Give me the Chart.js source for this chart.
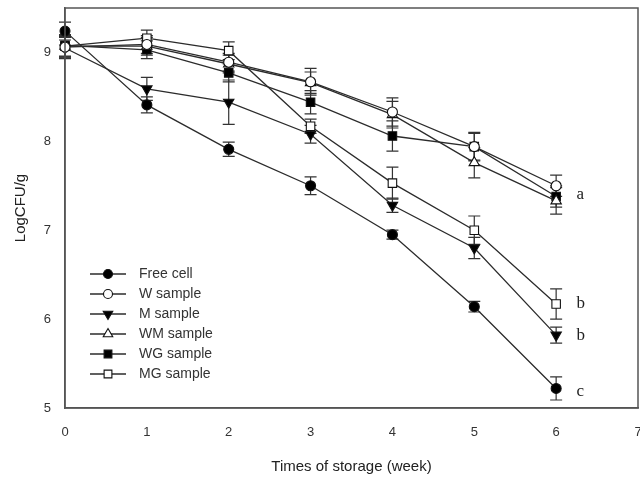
<!DOCTYPE html>
<html>
<head>
<meta charset="utf-8">
<script src="https://cdn.jsdelivr.net/npm/chart.js@4/dist/chart.umd.min.js"></script>
<style>
  html, body { margin: 0; padding: 0; background: #fff; overflow: hidden; }
  #chart { display: block; }
</style>
</head>
<body>
<canvas id="chart" width="642" height="477"></canvas>
<script>
// ── Data: LogCFU/g per storage week ──
var WEEKS = [0, 1, 2, 3, 4, 5, 6];
var X_TICKS = [0, 1, 2, 3, 4, 5, 6, 7];
var Y_TICKS = [5, 6, 7, 8, 9];

var FREE_CELL = [9.24, 8.41, 7.91, 7.50, 6.95, 6.14, 5.22];
var W_SAMPLE  = [9.06, 9.09, 8.89, 8.67, 8.33, 7.94, 7.50];
var M_SAMPLE  = [9.05, 8.59, 8.44, 8.08, 7.28, 6.80, 5.82];
var WM_SAMPLE = [9.07, 9.07, 8.87, 8.66, 8.30, 7.76, 7.33];
var WG_SAMPLE = [9.08, 9.03, 8.77, 8.44, 8.06, 7.94, 7.38];
var MG_SAMPLE = [9.07, 9.16, 9.02, 8.17, 7.53, 7.00, 6.17];

// error bars (± SD)
var FREE_SD = [0.10, 0.09, 0.08, 0.10, 0.05, 0.06, 0.13];
var W_SD    = [0.12, 0.10, 0.10, 0.15, 0.16, 0.15, 0.12];
var M_SD    = [0.12, 0.13, 0.25, 0.10, 0.08, 0.12, 0.09];
var WM_SD   = [0.12, 0.10, 0.10, 0.12, 0.15, 0.17, 0.15];
var WG_SD   = [0.12, 0.10, 0.10, 0.13, 0.17, 0.16, 0.12];
var MG_SD   = [0.12, 0.09, 0.10, 0.08, 0.18, 0.16, 0.17];

// significance letters at week 6
var LETTER_TEXT = ['a', 'b', 'b', 'c'];
var LETTER_Y = [7.40, 6.18, 5.82, 5.19];
var LETTER_X = 6.25;

var INK = '#2b2b2b';

function pts(ys) {
  return WEEKS.map(function (w, i) { return { x: w, y: ys[i] }; });
}

function serie(label, ys, sd, style, fill, radius, rot) {
  return {
    label: label, data: pts(ys), sd: sd,
    borderColor: INK, borderWidth: 1.3, tension: 0,
    pointStyle: style, pointRadius: radius, pointRotation: rot || 0,
    pointBackgroundColor: fill, pointBorderColor: '#111', pointBorderWidth: 1.1,
    clip: false
  };
}

var datasets = [
  serie('Free cell', FREE_CELL, FREE_SD, 'circle', '#000', 5),
  serie('W sample', W_SAMPLE, W_SD, 'circle', '#fff', 5),
  serie('M sample', M_SAMPLE, M_SD, 'triangle', '#000', 6, 180),
  serie('WM sample', WM_SAMPLE, WM_SD, 'triangle', '#fff', 6),
  serie('WG sample', WG_SAMPLE, WG_SD, 'rect', '#000', 6),
  serie('MG sample', MG_SAMPLE, MG_SD, 'rect', '#fff', 6)
];

// ── Error bars, under the markers ──
var errorBars = {
  id: 'errorBars',
  beforeDatasetsDraw: function (chart) {
    var ctx = chart.ctx, xs = chart.scales.x, ys = chart.scales.y;
    ctx.save();
    ctx.strokeStyle = '#333';
    ctx.lineWidth = 1.2;
    chart.data.datasets.forEach(function (ds) {
      ds.data.forEach(function (p, i) {
        var px = xs.getPixelForValue(p.x);
        var top = ys.getPixelForValue(p.y + ds.sd[i]);
        var bot = ys.getPixelForValue(p.y - ds.sd[i]);
        ctx.beginPath();
        ctx.moveTo(px, top); ctx.lineTo(px, bot);
        ctx.moveTo(px - 6, top); ctx.lineTo(px + 6, top);
        ctx.moveTo(px - 6, bot); ctx.lineTo(px + 6, bot);
        ctx.stroke();
      });
    });
    ctx.restore();
  }
};

// ── Frame, letters and in-plot legend ──
var decor = {
  id: 'decor',
  afterDraw: function (chart) {
    var ctx = chart.ctx, a = chart.chartArea, xs = chart.scales.x, ys = chart.scales.y;
    ctx.save();
    ctx.strokeStyle = '#555';
    ctx.lineWidth = 1.5;
    ctx.strokeRect(a.left, a.top, a.right - a.left, a.bottom - a.top);

    ctx.fillStyle = '#222';
    ctx.font = '17px "Liberation Serif", "Times New Roman", serif';
    ctx.textAlign = 'left';
    ctx.textBaseline = 'middle';
    LETTER_TEXT.forEach(function (t, i) {
      ctx.fillText(t, xs.getPixelForValue(LETTER_X), ys.getPixelForValue(LETTER_Y[i]));
    });

    var lx = a.left + 25, ly = a.top + 266;
    ctx.font = '14px "Liberation Sans", Arial, sans-serif';
    chart.data.datasets.forEach(function (ds, i) {
      var y = ly + i * 20;
      ctx.strokeStyle = INK;
      ctx.lineWidth = 1.3;
      ctx.beginPath();
      ctx.moveTo(lx, y); ctx.lineTo(lx + 36, y);
      ctx.stroke();
      ctx.fillStyle = ds.pointBackgroundColor;
      ctx.strokeStyle = '#111';
      ctx.lineWidth = 1.1;
      Chart.helpers.drawPoint(ctx, {
        pointStyle: ds.pointStyle, radius: ds.pointRadius - 0.5,
        rotation: ds.pointRotation, borderWidth: 1.1
      }, lx + 18, y);
      ctx.fillStyle = '#333';
      ctx.fillText(ds.label, lx + 49, y);
    });
    ctx.restore();
  }
};

var tickFont = { family: '"Liberation Sans", Arial, sans-serif', size: 13 };
var titleFont = { family: '"Liberation Sans", Arial, sans-serif', size: 15 };

new Chart(document.getElementById('chart'), {
  type: 'line',
  data: { datasets: datasets },
  options: {
    responsive: false,
    animation: false,
    layout: { autoPadding: false, padding: { top: 8, right: 4, left: 0, bottom: 0 } },
    plugins: { legend: { display: false }, tooltip: { enabled: false } },
    scales: {
      x: {
        type: 'linear', min: 0, max: 7,
        afterBuildTicks: function (s) { s.ticks = X_TICKS.map(function (v) { return { value: v }; }); },
        // fixed band height, and no extra side padding for the end labels
        afterFit: function (s) { s.height = 69; s.paddingLeft = 0; s.paddingRight = 0; },
        grid: { display: false, drawOnChartArea: false, drawTicks: true, tickLength: 5, tickColor: '#555' },
        border: { display: true, color: '#555', width: 1.5 },
        ticks: { font: tickFont, color: '#333', padding: 12, maxRotation: 0 },
        title: { display: true, text: 'Times of storage (week)', font: titleFont, color: '#222', padding: { top: 6, bottom: 1 } }
      },
      y: {
        type: 'linear', min: 5, max: 9.5,
        afterBuildTicks: function (s) { s.ticks = Y_TICKS.map(function (v) { return { value: v }; }); },
        afterFit: function (s) { s.width = 65; s.paddingTop = 0; s.paddingBottom = 0; },
        grid: { display: false, drawOnChartArea: false, drawTicks: true, tickLength: 5, tickColor: '#555' },
        border: { display: true, color: '#555', width: 1.5 },
        ticks: { font: tickFont, color: '#333', padding: 9 },
        title: { display: true, text: 'LogCFU/g', font: titleFont, color: '#222', padding: { top: 12, bottom: 4 } }
      }
    }
  },
  plugins: [errorBars, decor]
});
</script>
</body>
</html>
